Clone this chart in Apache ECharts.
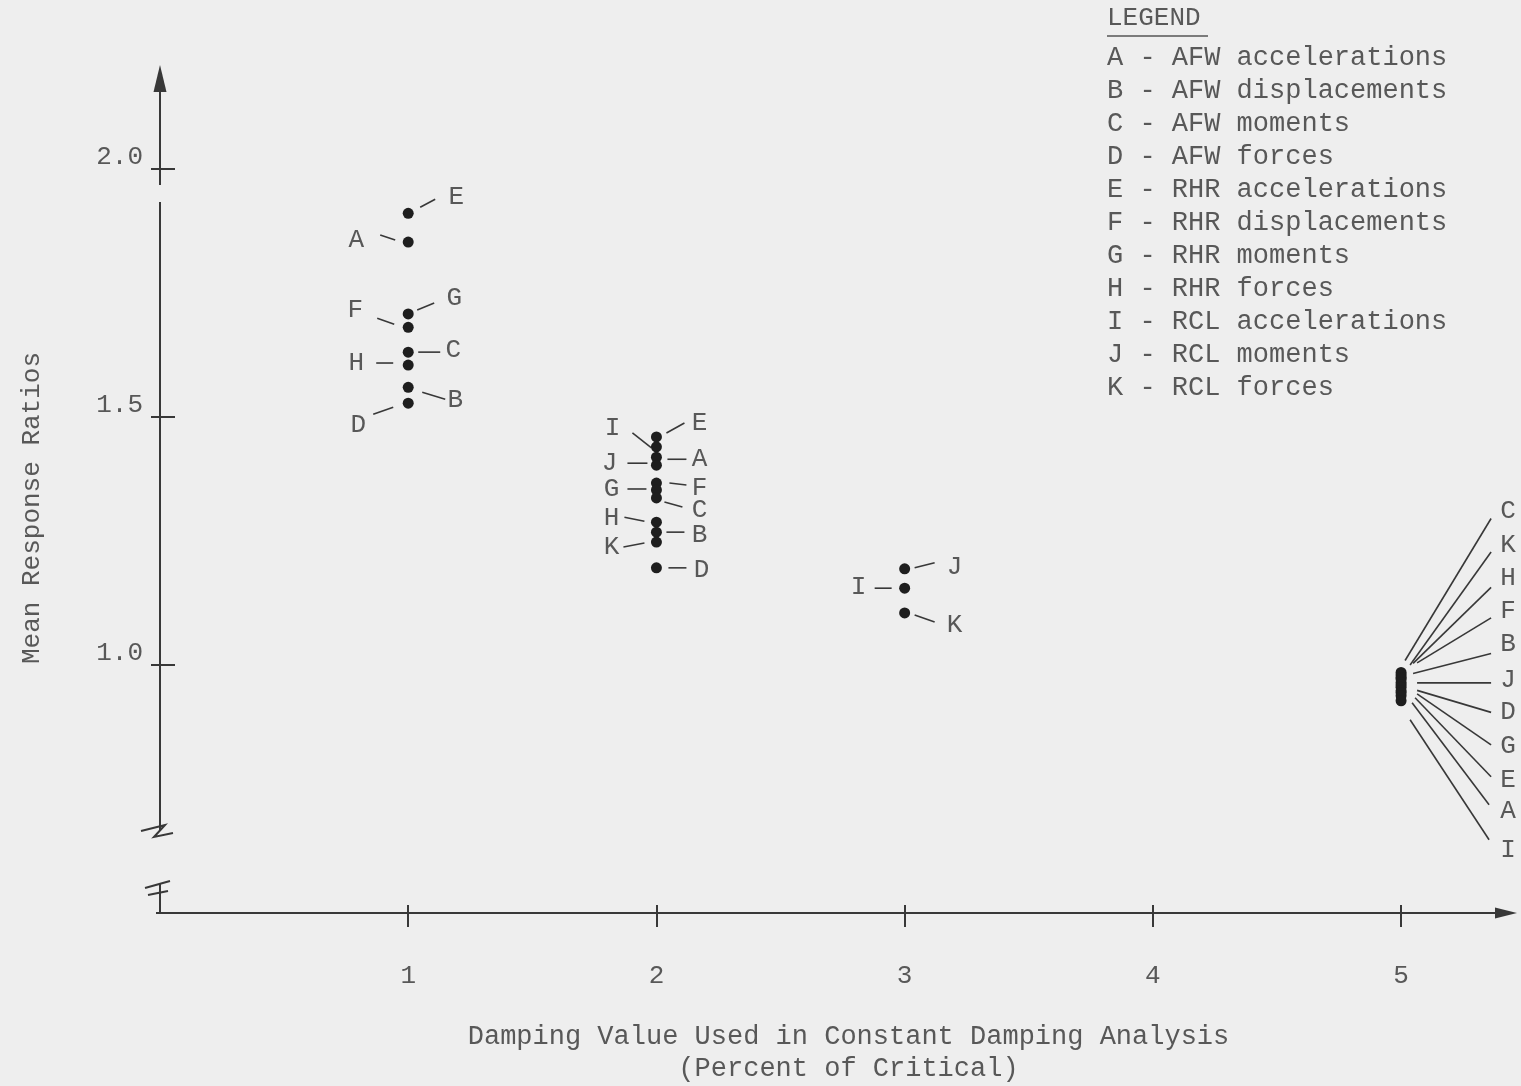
<!DOCTYPE html>
<html>
<head>
<meta charset="utf-8">
<script src="https://cdn.jsdelivr.net/npm/echarts@6/dist/echarts.min.js"></script>
<style>
  html, body { margin: 0; padding: 0; background: #eeeeee; }
  #chart { width: 1521px; height: 1086px; }
</style>
</head>
<body>
<div id="chart"></div>
<script>
// Axis tick values
const dampingTicks = [1, 2, 3, 4, 5];
const ratioTicks = [1.0, 1.5, 2.0];

// Legend: response-type codes
const legendCodes = ['A', 'B', 'C', 'D', 'E', 'F', 'G', 'H', 'I', 'J', 'K'];
const legendNames = [
  'AFW accelerations', 'AFW displacements', 'AFW moments', 'AFW forces',
  'RHR accelerations', 'RHR displacements', 'RHR moments', 'RHR forces',
  'RCL accelerations', 'RCL moments', 'RCL forces'
];

// Mean response ratios at 1% damping
const codes1 = ['E', 'A', 'G', 'F', 'C', 'H', 'B', 'D'];
const ratios1 = [1.911, 1.853, 1.708, 1.681, 1.631, 1.605, 1.560, 1.528];
// at 2% damping
const codes2 = ['E', 'I', 'A', 'J', 'F', 'G', 'C', 'H', 'B', 'K', 'D'];
const ratios2 = [1.460, 1.440, 1.419, 1.403, 1.367, 1.353, 1.337, 1.288, 1.268, 1.248, 1.196];
// at 3% damping
const codes3 = ['J', 'I', 'K'];
const ratios3 = [1.194, 1.155, 1.105];
// at 5% damping
const codes5 = ['C', 'K', 'H', 'F', 'B', 'J', 'D', 'G', 'E', 'A', 'I'];
const ratios5 = [0.985, 0.980, 0.975, 0.972, 0.965, 0.960, 0.955, 0.948, 0.944, 0.938, 0.928];

// Axis extents
const xMin = 0, xMax = 5.467;
const yMin = 0.5, yMax = 2.21;

// Hand-placed letter callouts, pixel offsets from each dot:
// [labelDx, labelDy, leaderStartDx, leaderStartDy, leaderEndDx, leaderEndDy]
const callouts = {
  1: {
    E: [48, -16, 12, -6, 27, -14], A: [-52, -2, -28, -7, -13, -2],
    G: [46, -16, 9, -4, 26, -11],  F: [-53, -17, -31, -9, -14, -3],
    C: [45, -2, 10, 0, 32, 0],     H: [-52, -2, -32, -2, -15, -2],
    B: [47, 13, 14, 5, 37, 12],    D: [-50, 22, -35, 11, -15, 4]
  },
  2: {
    E: [43, -14, 10, -4, 28, -14], I: [-44, -19, -24, -14, -5, 1],
    A: [43, 2, 11, 2, 30, 2],      J: [-47, -2, -29, -2, -9, -2],
    F: [43, 5, 13, 0, 30, 2],      G: [-45, -1, -29, -1, -10, -1],
    C: [43, 12, 8, 4, 26, 9],      H: [-45, -4, -32, -5, -12, -1],
    B: [43, 3, 10, 0, 28, 0],      K: [-45, 5, -33, 5, -12, 1],
    D: [45, 2, 12, 0, 30, 0]
  },
  3: {
    J: [50, -2, 10, -1, 30, -6], I: [-46, -1, -30, 0, -13, 0], K: [50, 12, 10, 2, 30, 9]
  },
  5: {
    C: [107, -161, 4, -12, 90, -154], K: [107, -130, 9, -10, 90, -123],
    H: [107, -99, 12, -14, 90, -90],  F: [107, -68, 16, -16, 90, -61],
    B: [107, -38, 12, -9, 90, -29],   J: [107, -5, 16, -2, 90, -2],
    D: [107, 25, 16, 3, 90, 25],      G: [107, 55, 16, 3, 90, 54],
    E: [107, 87, 14, 5, 90, 84],      A: [107, 115, 11, 7, 88, 109],
    I: [107, 149, 9, 19, 88, 139]
  }
};

const FONT = 'Liberation Mono, DejaVu Sans Mono, monospace';
const TEXT_COLOR = '#585858';
const INK = '#383838';
const DOT = '#1e1e1e';

function makeGroupSeries(damping, codes, ratios) {
  return {
    type: 'custom',
    name: damping + '% damping',
    coordinateSystem: 'cartesian2d',
    encode: { x: 0, y: 1 },
    data: ratios.map(v => [damping, v]),
    z: 5,
    renderItem: function (params, api) {
      const p = api.coord([api.value(0), api.value(1)]);
      const code = codes[params.dataIndex];
      const c = callouts[damping][code];
      return {
        type: 'group',
        children: [
          {
            type: 'line',
            shape: { x1: p[0] + c[2], y1: p[1] + c[3], x2: p[0] + c[4], y2: p[1] + c[5] },
            style: { stroke: INK, lineWidth: 1.6 }
          },
          {
            type: 'circle',
            shape: { cx: p[0], cy: p[1], r: 5.5 },
            style: { fill: DOT }
          },
          {
            type: 'text',
            x: p[0] + c[0],
            y: p[1] + c[1],
            style: {
              text: code, fill: TEXT_COLOR, font: '26px ' + FONT,
              align: 'center', verticalAlign: 'middle'
            }
          }
        ]
      };
    }
  };
}

const chart = echarts.init(document.getElementById('chart'));

const tickLine = { color: INK, width: 2 };

chart.setOption({
  backgroundColor: '#eeeeee',
  animation: false,
  grid: { left: 160, right: 4, top: 65, bottom: 173, outerBoundsMode: 'none' },
  xAxis: [
    {
      type: 'value', min: xMin, max: xMax, interval: 1, position: 'bottom',
      axisLine: { show: false },
      splitLine: { show: false },
      axisTick: { show: true, inside: true, length: 8, customValues: dampingTicks, lineStyle: tickLine },
      axisLabel: {
        customValues: dampingTicks, margin: 50,
        fontFamily: FONT, fontSize: 26, color: TEXT_COLOR
      },
      name: 'Damping Value Used in Constant Damping Analysis\n(Percent of Critical)',
      nameLocation: 'middle', nameGap: 108,
      nameTextStyle: {
        fontFamily: FONT, fontSize: 27, color: TEXT_COLOR, lineHeight: 32,
        padding: [0, 0, 0, 20]
      }
    },
    {
      type: 'value', min: xMin, max: xMax, interval: 1, position: 'bottom',
      axisLine: { show: false },
      splitLine: { show: false },
      axisTick: { show: true, inside: false, length: 14, customValues: dampingTicks, lineStyle: tickLine },
      axisLabel: { show: false }
    }
  ],
  yAxis: [
    {
      type: 'value', min: yMin, max: yMax, interval: 0.5, position: 'left',
      axisLine: { show: false },
      splitLine: { show: false },
      axisTick: { show: true, inside: true, length: 15, customValues: ratioTicks, lineStyle: tickLine },
      axisLabel: {
        customValues: ratioTicks, margin: 17, verticalAlign: 'bottom', lineHeight: 24,
        formatter: v => v.toFixed(1),
        fontFamily: FONT, fontSize: 26, color: TEXT_COLOR
      },
      name: 'Mean Response Ratios',
      nameLocation: 'middle', nameGap: 115,
      nameTextStyle: { fontFamily: FONT, fontSize: 26, color: TEXT_COLOR, padding: [0, 38, 0, 0] }
    },
    {
      type: 'value', min: yMin, max: yMax, interval: 0.5, position: 'left',
      axisLine: { show: false },
      splitLine: { show: false },
      axisTick: { show: true, inside: false, length: 9, customValues: ratioTicks, lineStyle: tickLine },
      axisLabel: { show: false }
    }
  ],
  series: [
    makeGroupSeries(1, codes1, ratios1),
    makeGroupSeries(2, codes2, ratios2),
    makeGroupSeries(3, codes3, ratios3),
    makeGroupSeries(5, codes5, ratios5)
  ]
});

// Axis lines with arrowheads and the broken-scale marks on the ratio axis
const O = chart.convertToPixel({ gridIndex: 0 }, [xMin, yMin]);
const XE = chart.convertToPixel({ gridIndex: 0 }, [xMax, yMin]);
const YT = chart.convertToPixel({ gridIndex: 0 }, [xMin, yMax]);
const ox = O[0], oy = O[1];
const axisStyle = { stroke: INK, lineWidth: 2, fill: null };

function seg(x1, y1, x2, y2) {
  return { type: 'line', shape: { x1, y1, x2, y2 }, style: axisStyle, z: 3 };
}
function poly(pts) {
  return { type: 'polyline', shape: { points: pts.map(p => [ox + p[0], oy + p[1]]) }, style: axisStyle, z: 3 };
}

const legendText = legendCodes.map((c, i) => c + ' - ' + legendNames[i]).join('\n');

chart.setOption({
  graphic: [
    // horizontal axis with arrow
    seg(ox - 4, oy, XE[0] - 18, oy),
    { type: 'polygon', shape: { points: [[XE[0], oy], [XE[0] - 22, oy - 5.5], [XE[0] - 22, oy + 5.5]] }, style: { fill: INK }, z: 3 },
    // vertical axis, lower stub below the break
    seg(ox, oy, ox, oy - 30),
    poly([[-15, -25], [10, -32]]),
    poly([[-12, -18], [8, -22]]),
    // vertical axis above the break
    seg(ox, oy - 83, ox, oy - 711),
    seg(ox, oy - 728, ox, YT[1] + 22),
    poly([[-19, -82], [5, -88], [-6, -76], [13, -80]]),
    { type: 'polygon', shape: { points: [[ox, YT[1]], [ox - 6.5, YT[1] + 27], [ox + 6.5, YT[1] + 27]] }, style: { fill: INK }, z: 3 },
    // legend block
    {
      type: 'text', x: 1107, y: 5,
      style: { text: 'LEGEND', font: '26px ' + FONT, fill: TEXT_COLOR, verticalAlign: 'top' }
    },
    { type: 'line', shape: { x1: 1107, y1: 36, x2: 1208, y2: 36 }, style: { stroke: '#555', lineWidth: 1.5 } },
    {
      type: 'text', x: 1107, y: 41,
      style: { text: legendText, font: '27px ' + FONT, fill: TEXT_COLOR, lineHeight: 33, verticalAlign: 'top' }
    }
  ]
});
</script>
</body>
</html>
